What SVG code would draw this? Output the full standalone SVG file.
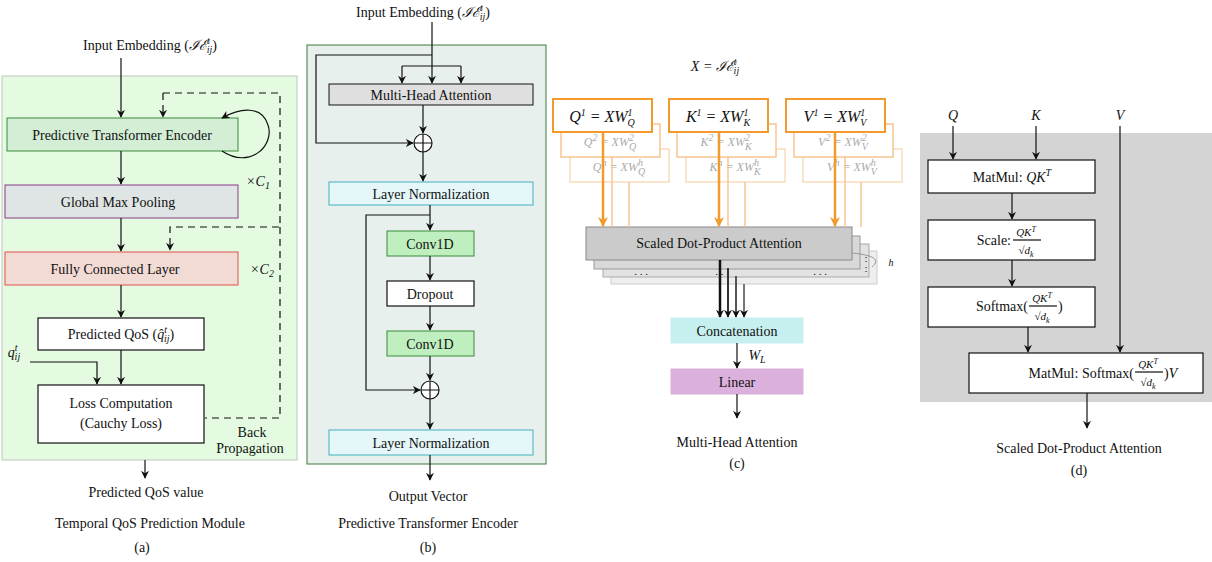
<svg xmlns="http://www.w3.org/2000/svg" width="1212" height="562" viewBox="0 0 1212 562">
<style>
text{font-family:"Liberation Serif","DejaVu Serif",serif;font-size:14px;fill:#111;text-anchor:middle}
.i{font-style:italic}
.s{font-size:10px}
.e{text-anchor:end}
.st{text-anchor:start}
.f{font-size:11px;font-style:italic}
.f8{font-size:8px}
.b{fill:#fff;stroke:#111;stroke-width:1.2}
.l{stroke:#111;stroke-width:1.2;fill:none}
.d{stroke:#111;stroke-width:1.2;fill:none;stroke-dasharray:7 5}
.o{fill:#fff;stroke:#f39a2c;stroke-width:2}
.of{fill:#fff;stroke:#f7c590;stroke-width:1.5}
.g{fill:#aaa;font-size:12px}
.big{font-size:16px}
.dots{font-size:11px}
</style>
<defs>
<marker id="a" viewBox="0 0 10 10" refX="9" refY="5" markerWidth="8" markerHeight="8" orient="auto" markerUnits="userSpaceOnUse"><path d="M0,0 L10,5 L0,10 L3,5z" fill="#111"/></marker>
<marker id="ao" viewBox="0 0 10 10" refX="9" refY="5" markerWidth="10" markerHeight="10" orient="auto" markerUnits="userSpaceOnUse"><path d="M0,0 L10,5 L0,10 L3,5z" fill="#f39a2c"/></marker>
</defs>

<!-- Panel a -->
<rect x="2" y="76" width="295" height="384" fill="#e4fbe1" stroke="#b9c9b9"/>
<g id="a-pte"><rect x="7" y="118" width="231" height="33" fill="#d3eed5" stroke="#3a8a3a"/><text x="122" y="140">Predictive Transformer Encoder</text></g>
<g id="a-gmp"><rect x="5" y="185" width="233" height="33" fill="#dfe5e4" stroke="#8a3a8a"/><text x="118" y="207">Global Max Pooling</text></g>
<g id="a-fcl"><rect x="5" y="252" width="233" height="33" fill="#f3dbd5" stroke="#e05050"/><text x="115" y="274">Fully Connected Layer</text></g>
<g id="a-pq"><rect x="38" y="318" width="166" height="32" class="b"/><text x="121" y="339">Predicted QoS (<tspan class="i">q̂</tspan><tspan class="i s" dy="-6">t</tspan><tspan class="i s" dx="-3" dy="9">ij</tspan><tspan dy="-3">)</tspan></text></g>
<g id="a-loss"><rect x="38" y="385" width="166" height="58" class="b"/><text x="121" y="408">Loss Computation</text><text x="121" y="428">(Cauchy Loss)</text></g>
<g id="a-labels">
<text x="150" y="50">Input Embedding (<tspan class="i">ℐℰ</tspan><tspan class="i s" dy="-6">t</tspan><tspan class="i s" dx="-3" dy="9">ij</tspan><tspan dy="-3">)</tspan></text>
<text x="258" y="186" class="i">×C<tspan class="s" dy="3">1</tspan></text>
<text x="262" y="274" class="i">×C<tspan class="s" dy="3">2</tspan></text>
<text x="14" y="357" class="i">q<tspan class="s" dy="-6">t</tspan><tspan class="s" dx="-3" dy="9">ij</tspan></text>
<text x="252" y="437">Back</text><text x="250" y="453">Propagation</text>
<text x="146" y="497">Predicted QoS value</text>
<text x="150" y="528">Temporal QoS Prediction Module</text>
<text x="142" y="552">(a)</text>
</g>

<!-- Panel b -->
<rect x="307" y="45" width="239" height="419" fill="#e8f0ed" stroke="#3a7a3a"/>
<g id="b-mha"><rect x="329" y="84" width="204" height="21" fill="#dfdfdf" stroke="#111"/><text x="431" y="100">Multi-Head Attention</text></g>
<g id="b-add1"><circle cx="423" cy="143" r="9" class="b"/><path d="M414,143h18M423,134v18" class="l"/></g>
<g id="b-ln1"><rect x="329" y="182" width="204" height="23" fill="#e6f7f9" stroke="#40b0c0"/><text x="431" y="199">Layer Normalization</text></g>
<g id="b-c1"><rect x="387" y="231" width="87" height="25" fill="#bfefbf" stroke="#3a8a3a"/><text x="430" y="249">Conv1D</text></g>
<g id="b-do"><rect x="387" y="281" width="87" height="25" class="b"/><text x="430" y="299">Dropout</text></g>
<g id="b-c2"><rect x="387" y="331" width="87" height="25" fill="#bfefbf" stroke="#3a8a3a"/><text x="430" y="349">Conv1D</text></g>
<g id="b-add2"><circle cx="430" cy="390" r="9" class="b"/><path d="M421,390h18M430,381v18" class="l"/></g>
<g id="b-ln2"><rect x="329" y="430" width="204" height="25" fill="#e6f7f9" stroke="#40b0c0"/><text x="431" y="448">Layer Normalization</text></g>
<g id="b-labels">
<text x="423" y="17">Input Embedding (<tspan class="i">ℐℰ</tspan><tspan class="i s" dy="-6">t</tspan><tspan class="i s" dx="-3" dy="9">ij</tspan><tspan dy="-3">)</tspan></text>
<text x="428" y="501">Output Vector</text>
<text x="428" y="528">Predictive Transformer Encoder</text>
<text x="428" y="552">(b)</text>
</g>

<!-- Panel c -->
<text x="715" y="71" class="i">X = ℐℰ<tspan class="s" dy="-6">t</tspan><tspan class="s" dx="-3" dy="9">ij</tspan></text>
<g id="c-q">
<rect x="570" y="149" width="99" height="33" class="of" opacity="0.6"/><text x="619" y="171" class="i g">Q<tspan class="s" dy="-5">h</tspan><tspan dy="5"> = XW</tspan><tspan class="s" dy="-5">h</tspan><tspan class="s" dx="-5" dy="9">Q</tspan></text>
<rect x="561" y="124" width="99" height="33" class="of"/><text x="610" y="146" class="i g">Q<tspan class="s" dy="-5">2</tspan><tspan dy="5"> = XW</tspan><tspan class="s" dy="-5">2</tspan><tspan class="s" dx="-5" dy="9">Q</tspan></text>
<rect x="553" y="99" width="99" height="33" class="o"/><text x="602" y="122" class="i big">Q<tspan class="s" dy="-6">1</tspan><tspan dy="6"> = XW</tspan><tspan class="s" dy="-6">1</tspan><tspan class="s" dx="-5" dy="10">Q</tspan></text>
</g>
<g id="c-k">
<rect x="686" y="149" width="99" height="33" class="of" opacity="0.6"/><text x="735" y="171" class="i g">K<tspan class="s" dy="-5">h</tspan><tspan dy="5"> = XW</tspan><tspan class="s" dy="-5">h</tspan><tspan class="s" dx="-5" dy="9">K</tspan></text>
<rect x="677" y="124" width="99" height="33" class="of"/><text x="726" y="146" class="i g">K<tspan class="s" dy="-5">2</tspan><tspan dy="5"> = XW</tspan><tspan class="s" dy="-5">2</tspan><tspan class="s" dx="-5" dy="9">K</tspan></text>
<rect x="669" y="99" width="99" height="33" class="o"/><text x="718" y="122" class="i big">K<tspan class="s" dy="-6">1</tspan><tspan dy="6"> = XW</tspan><tspan class="s" dy="-6">1</tspan><tspan class="s" dx="-5" dy="10">K</tspan></text>
</g>
<g id="c-v">
<rect x="803" y="149" width="99" height="33" class="of" opacity="0.6"/><text x="852" y="171" class="i g">V<tspan class="s" dy="-5">h</tspan><tspan dy="5"> = XW</tspan><tspan class="s" dy="-5">h</tspan><tspan class="s" dx="-5" dy="9">V</tspan></text>
<rect x="794" y="124" width="99" height="33" class="of"/><text x="843" y="146" class="i g">V<tspan class="s" dy="-5">2</tspan><tspan dy="5"> = XW</tspan><tspan class="s" dy="-5">2</tspan><tspan class="s" dx="-5" dy="9">V</tspan></text>
<rect x="786" y="99" width="99" height="33" class="o"/><text x="835" y="122" class="i big">V<tspan class="s" dy="-6">1</tspan><tspan dy="6"> = XW</tspan><tspan class="s" dy="-6">1</tspan><tspan class="s" dx="-5" dy="10">V</tspan></text>
</g>
<g id="c-sdpa">
<rect x="611" y="251" width="266" height="33" fill="#eee" stroke="#ccc"/>
<rect x="603" y="244" width="266" height="33" fill="#e2e2e2" stroke="#aaa"/>
<rect x="594" y="236" width="266" height="33" fill="#d8d8d8" stroke="#999"/>
<rect x="586" y="227" width="266" height="33" fill="#cbcbcb" stroke="#888"/>
<text x="719" y="248">Scaled Dot-Product Attention</text>
<text x="641" y="275" class="dots">. . .</text><text x="722" y="275" class="dots">. . .</text><text x="820" y="275" class="dots">. . .</text>
<text x="866" y="262" class="dots">:</text><text x="866" y="272" class="dots">:</text>
<path d="M852,253 Q885,256 872,267" stroke="#999" fill="none"/>
<text x="891" y="266" class="i s">h</text>
</g>
<g id="c-concat"><rect x="671" y="318" width="132" height="25" fill="#c6f0ef" stroke="#c6f0ef"/><text x="737" y="336">Concatenation</text></g>
<g id="c-linear"><rect x="671" y="369" width="132" height="25" fill="#dcb0dc" stroke="#dcb0dc"/><text x="737" y="387">Linear</text></g>
<text x="757" y="360" class="i">W<tspan class="s" dy="3">L</tspan></text>
<text x="737" y="447">Multi-Head Attention</text>
<text x="737" y="468">(c)</text>

<!-- Panel d -->
<rect x="920" y="133" width="292" height="269" fill="#d4d4d4"/>
<g id="d-mm1"><rect x="928" y="160" width="167" height="33" class="b"/><text x="1012" y="182">MatMul: <tspan class="i">QK</tspan><tspan class="i s" dy="-6">T</tspan></text></g>
<g id="d-scale"><rect x="928" y="220" width="167" height="40" class="b"/><text x="1011" y="245" class="e">Scale:</text><text x="1026" y="236" class="f">QK<tspan class="f8" dy="-4">T</tspan></text><path d="M1013,240h28" class="l" stroke-width="0.8"/><text x="1026" y="254" class="f">√d<tspan class="f8" dy="3">k</tspan></text></g>
<g id="d-soft"><rect x="928" y="287" width="167" height="40" class="b"/><text x="1028" y="311" class="e">Softmax(</text><text x="1042" y="302" class="f">QK<tspan class="f8" dy="-4">T</tspan></text><path d="M1029,306h28" class="l" stroke-width="0.8"/><text x="1058" y="311" class="st">)</text></g>
<g id="d-soft-den"><text x="1042" y="320" class="f">√d<tspan class="f8" dy="3">k</tspan></text></g>
<g id="d-mm2"><rect x="969" y="353" width="234" height="40" class="b"/><text x="1134" y="378" class="e">MatMul: Softmax(</text><text x="1148" y="368" class="f">QK<tspan class="f8" dy="-4">T</tspan></text><path d="M1135,372h28" class="l" stroke-width="0.8"/><text x="1148" y="386" class="f">√d<tspan class="f8" dy="3">k</tspan></text><text x="1164" y="378" class="st">)<tspan class="i">V</tspan></text></g>
<text x="953" y="120" class="i">Q</text><text x="1036" y="120" class="i">K</text><text x="1120" y="120" class="i">V</text>
<text x="1079" y="453">Scaled Dot-Product Attention</text>
<text x="1079" y="475">(d)</text>

<g id="connectors">
<path d="M121,58V117" class="l" marker-end="url(#a)"/>
<path d="M222,151 C250,170 275,145 268,125 C262,105 240,108 222,118" class="l" marker-end="url(#a)"/>
<path d="M121,151V184" class="l" marker-end="url(#a)"/>
<path d="M121,218V251" class="l" marker-end="url(#a)"/>
<path d="M121,285V317" class="l" marker-end="url(#a)"/>
<path d="M121,350V384" class="l" marker-end="url(#a)"/>
<path d="M30,362H97V384" class="l" marker-end="url(#a)"/>
<path d="M163,93H280V227H170V250" class="d" marker-end="url(#a)"/>
<path d="M163,93V117" class="d" marker-end="url(#a)"/>
<path d="M280,227V418H205" class="d"/>
<path d="M145,460V478" class="l" marker-end="url(#a)"/>

<path d="M432,22V83" class="l" marker-end="url(#a)"/>
<path d="M402,66H461" class="l"/>
<path d="M402,66V83" class="l" marker-end="url(#a)"/><path d="M461,66V83" class="l" marker-end="url(#a)"/>
<path d="M432,55H316V143H413" class="l" marker-end="url(#a)"/>
<path d="M423,105V133" class="l" marker-end="url(#a)"/>
<path d="M423,152V181" class="l" marker-end="url(#a)"/>
<path d="M430,205V230" class="l" marker-end="url(#a)"/>
<path d="M430,215H366V390H420" class="l" marker-end="url(#a)"/>
<path d="M430,256V280" class="l" marker-end="url(#a)"/>
<path d="M430,306V330" class="l" marker-end="url(#a)"/>
<path d="M430,356V380" class="l" marker-end="url(#a)"/>
<path d="M430,399V429" class="l" marker-end="url(#a)"/>
<path d="M430,455V480" class="l" marker-end="url(#a)"/>

<path d="M603,132V226" stroke="#f39a2c" stroke-width="2.5" marker-end="url(#ao)"/>
<path d="M719,132V226" stroke="#f39a2c" stroke-width="2.5" marker-end="url(#ao)"/>
<path d="M835,132V226" stroke="#f39a2c" stroke-width="2.5" marker-end="url(#ao)"/>
<path d="M612,157V227M629,182V227M728,157V227M745,182V227M845,157V227M861,182V227" stroke="#f7c590" stroke-width="1.5"/>
<path d="M720,260V317" stroke="#111" stroke-width="2.5" marker-end="url(#a)"/>
<path d="M728,268V317" stroke="#333" stroke-width="2" marker-end="url(#a)"/>
<path d="M736,276V317" stroke="#555" stroke-width="2" marker-end="url(#a)"/>
<path d="M744,284V317" stroke="#777" stroke-width="2" marker-end="url(#a)"/>
<path d="M737,343V368" class="l" marker-end="url(#a)"/>
<path d="M737,394V418" class="l" marker-end="url(#a)"/>

<path d="M953,126V159" class="l" marker-end="url(#a)"/>
<path d="M1036,126V159" class="l" marker-end="url(#a)"/>
<path d="M1120,126V352" class="l" marker-end="url(#a)"/>
<path d="M1012,193V219" class="l" marker-end="url(#a)"/>
<path d="M1012,260V286" class="l" marker-end="url(#a)"/>
<path d="M1028,327V352" class="l" marker-end="url(#a)"/>
<path d="M1087,393V428" class="l" marker-end="url(#a)"/>
</g>
</svg>
